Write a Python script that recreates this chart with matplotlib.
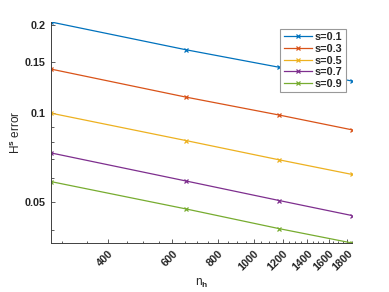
import matplotlib
matplotlib.use("Agg")
import matplotlib.pyplot as plt
from matplotlib.ticker import FixedLocator, NullFormatter

plt.rcParams["font.family"] = ["Liberation Sans", "DejaVu Sans"]
plt.rcParams["font.weight"] = "bold"
plt.rcParams["mathtext.fontset"] = "custom"
plt.rcParams["mathtext.rm"] = "Liberation Sans:bold"
plt.rcParams["mathtext.default"] = "rm"

# 网格点数与误差
n_h = [280, 653, 1175, 1854]
err_s01 = [0.2052, 0.1650, 0.1437, 0.1290]
err_s03 = [0.1417, 0.1137, 0.0987, 0.0879]
err_s05 = [0.1002, 0.0808, 0.0694, 0.0619]
err_s07 = [0.0733, 0.0588, 0.0504, 0.0448]
err_s09 = [0.0585, 0.0472, 0.0404, 0.0361]
labels = ["s=0.1", "s=0.3", "s=0.5", "s=0.7", "s=0.9"]
x_ticks = [400, 600, 800, 1000, 1200, 1400, 1600, 1800]
y_ticks = [0.05, 0.1, 0.15, 0.2]
y_ticklabels = ["0.05", "0.1", "0.15", "0.2"]

# MATLAB 默认色序
COLORS = ["#0072BD", "#D95319", "#EDB120", "#7E2F8E", "#77AC30"]
AX_COLOR = "#404040"

fig = plt.figure(figsize=(3.89, 2.92), dpi=100)
ax = fig.add_axes([51 / 389, 1 - 243 / 292, (352 - 51) / 389, (243 - 22) / 292])

for errs, lab, c in zip([err_s01, err_s03, err_s05, err_s07, err_s09], labels, COLORS):
    ax.plot(n_h, errs, color=c, lw=0.9, marker="x", ms=3.5, mew=0.9, label=lab)

ax.set_xscale("log")
ax.set_yscale("log")
ax.set_xlim(min(n_h), max(n_h))
ax.set_ylim(min(err_s09), max(err_s01))

ax.xaxis.set_major_locator(FixedLocator(x_ticks))
ax.set_xticklabels([str(t) for t in x_ticks])
ax.xaxis.set_minor_locator(FixedLocator([v for v in range(300, 1851, 50) if v not in x_ticks]))
ax.xaxis.set_minor_formatter(NullFormatter())
ax.yaxis.set_major_locator(FixedLocator(y_ticks))
ax.set_yticklabels(y_ticklabels)
ax.yaxis.set_minor_locator(FixedLocator([0.04, 0.06, 0.07, 0.08, 0.09]))
ax.yaxis.set_minor_formatter(NullFormatter())

for side in ["top", "right"]:
    ax.spines[side].set_visible(False)
for side in ["left", "bottom"]:
    ax.spines[side].set_color(AX_COLOR)
    ax.spines[side].set_linewidth(0.7)

ax.tick_params(which="both", direction="in", colors=AX_COLOR, labelcolor="#262626",
               labelsize=7.8, width=0.6)
ax.tick_params(which="major", length=3)
ax.tick_params(which="minor", length=1.8)
ax.tick_params(axis="x", pad=4)
ax.tick_params(axis="y", pad=4)
for lbl in ax.get_xticklabels():
    lbl.set_rotation(45)
    lbl.set_ha("right")
    lbl.set_va("top")
    lbl.set_rotation_mode("anchor")

ax.set_xlabel("n$_h$", fontsize=8.5, color="#262626", labelpad=3)
ax.set_ylabel("H$^s$ error", fontsize=8.5, color="#262626", labelpad=1)

leg = ax.legend(loc="upper right", bbox_to_anchor=(346 / 389, 1 - 29 / 292),
                bbox_transform=fig.transFigure, borderaxespad=0, fontsize=7.8,
                fancybox=False, framealpha=1, edgecolor="#999999",
                handlelength=2.6, handletextpad=0.3, labelspacing=0.15,
                borderpad=0.3, markerscale=1.0)
leg.get_frame().set_linewidth(0.8)
for t in leg.get_texts():
    t.set_color("#262626")

fig.savefig("out.png", dpi=100)
